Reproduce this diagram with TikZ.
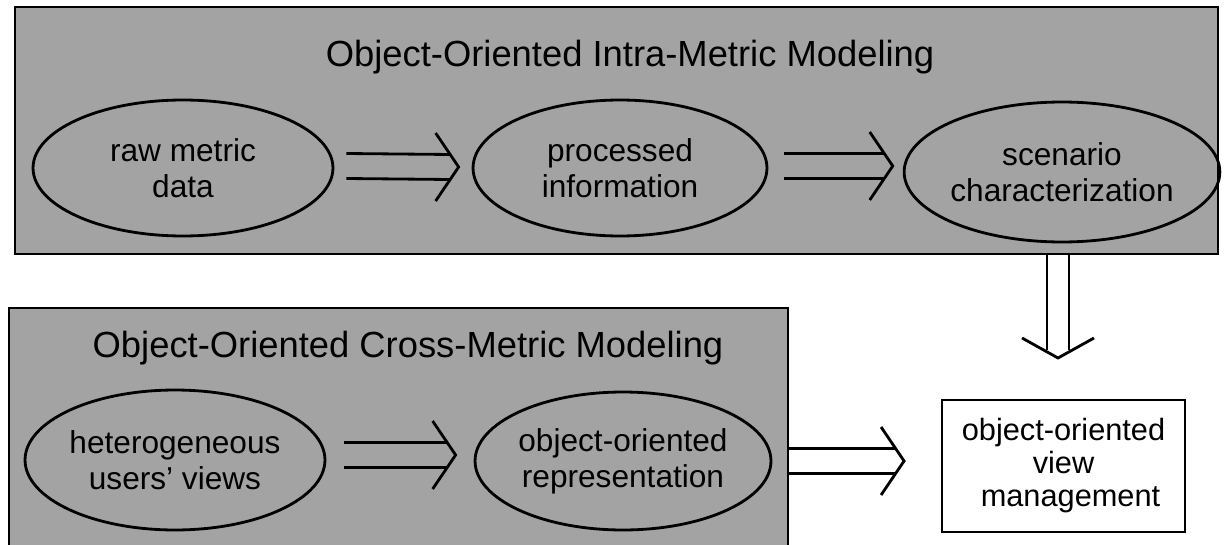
\documentclass[tikz,border=0pt]{standalone}
\usepackage{fontspec}
\setmainfont{Liberation Sans}
\usetikzlibrary{shapes.geometric,calc}
\definecolor{panelgray}{gray}{0.64}
\newcommand\hdblarrow[2]{%
  \draw[arrowline] ($(#1)+(0,-12.5)$) -- ($(#2)+(-8,-12.5)$);
  \draw[arrowline] ($(#1)+(0,12.5)$) -- ($(#2)+(-8,12.5)$);
  \draw[arrowline] ($(#2)+(-23,-34)$) -- (#2) -- ($(#2)+(-23,34)$);}
\newcommand\vdblarrow[2]{%
  \draw[arrowline] ($(#1)+(-11,0)$) -- ($(#2)+(-11,-8)$);
  \draw[arrowline] ($(#1)+(11,0)$) -- ($(#2)+(11,-8)$);
  \draw[arrowline] ($(#2)+(-36,-20)$) -- (#2) -- ($(#2)+(36,-20)$);}
\begin{document}
\begin{tikzpicture}[x=0.02cm,y=-0.02cm,
  panel/.style={draw=black, line width=1.4pt, fill=panelgray},
  oval/.style={ellipse, draw=black, line width=1.6pt, inner sep=0pt, align=center,
    font=\fontsize{18}{20.5}\selectfont},
  paneltitle/.style={anchor=base, inner sep=0pt, font=\fontsize{20.7}{24}\selectfont},
  result/.style={rectangle, draw=black, line width=1.1pt, fill=white, inner sep=0pt,
    align=center, font=\fontsize{17.5}{18.8}\selectfont},
  arrowline/.style={line width=1.6pt, line join=miter}]
\useasboundingbox (0,0) rectangle (1229,544);
\fill[white] (0,0) rectangle (1229,544);

% panels
\draw[panel] (15,7) rectangle (1218,254);
\coordinate (topbottom) at (1058,254);
\draw[panel] (9,308) rectangle (788,560);

\node[paneltitle] (t1) at (630,67) {Object-Oriented Intra-Metric Modeling};
\node[paneltitle] (t2) at (408,357) {Object-Oriented Cross-Metric Modeling};

% top row
\node[oval, minimum width=6cm, minimum height=2.72cm] (raw) at (183,168) {raw metric\\data};
\node[oval, minimum width=5.88cm, minimum height=2.72cm] (proc) at (620,168) {processed\\information};
\node[oval, minimum width=6cm, minimum height=2.8cm] (scen) at (1062,172) {scenario\\characterization};

% bottom row
\node[oval, minimum width=6cm, minimum height=2.8cm] (het) at (175,460) {heterogeneous\\users' views};
\node[oval, minimum width=5.92cm, minimum height=2.76cm] (oor) at (623,461) {object-oriented\\representation};

\node[result, minimum width=4.86cm, minimum height=2.64cm] (ovm) at (1063.5,466)
  {object-oriented\\view\hspace*{0.28cm}\\\hspace*{0.28cm}management};

% arrows
\coordinate (a1s) at ($(raw.east)+(12,-2)$);
\coordinate (a1t) at ($(proc.west)+(-13,-1)$);
\hdblarrow{a1s}{a1t}
\coordinate (a2s) at ($(proc.east)+(16,-2)$);
\coordinate (a2t) at ($(scen.west)+(-10,-6)$);
\hdblarrow{a2s}{a2t}
\coordinate (a3s) at ($(het.east)+(18,-5)$);
\coordinate (a3t) at ($(oor.west)+(-18,-6)$);
\hdblarrow{a3s}{a3t}
\coordinate (a4s) at (788,461);
\coordinate (a4t) at ($(ovm.west)+(-37,-5)$);
\hdblarrow{a4s}{a4t}
\coordinate (a5t) at (1058,358);
\vdblarrow{topbottom}{a5t}
\end{tikzpicture}
\end{document}
